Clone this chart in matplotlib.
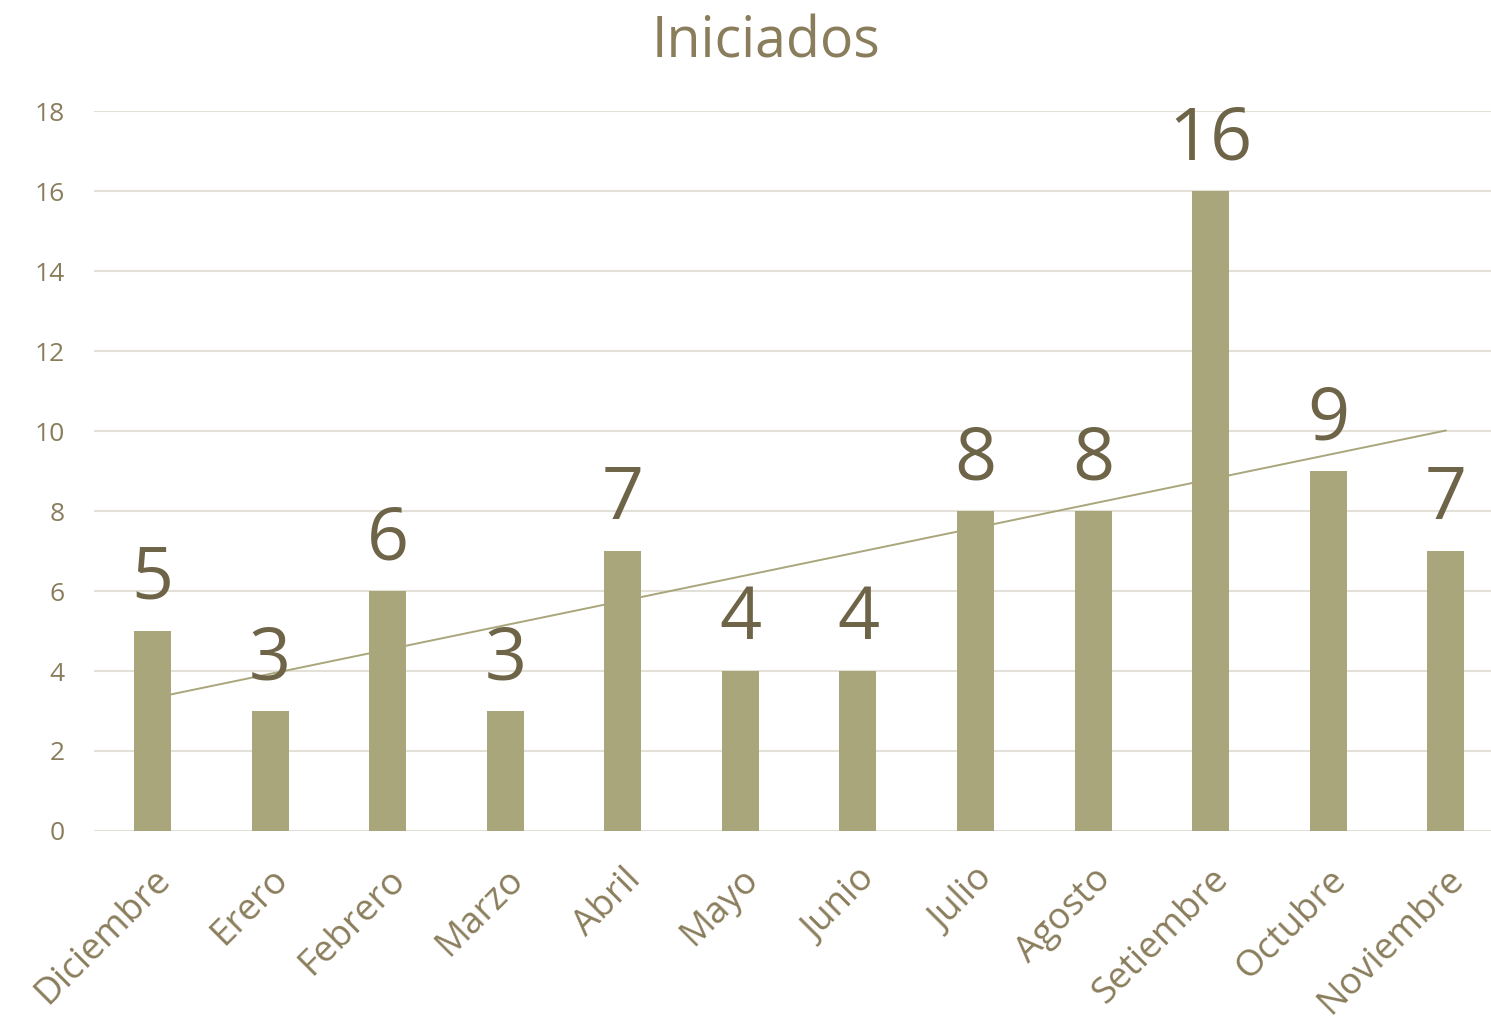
import numpy as np
import matplotlib
matplotlib.use("Agg")
import matplotlib.pyplot as plt
from matplotlib.transforms import ScaledTranslation

plt.rcParams['font.family'] = ['Open Sans', 'DejaVu Sans']

months = ["Diciembre", "Erero", "Febrero", "Marzo", "Abril", "Mayo", "Junio",
          "Julio", "Agosto", "Setiembre", "Octubre", "Noviembre"]
values = [5, 3, 6, 3, 7, 4, 4, 8, 8, 16, 9, 7]
yticks = [0, 2, 4, 6, 8, 10, 12, 14, 16, 18]
title = "Iniciados"

bar_color = "#aaa67c"
text_color = "#8a7d5c"
label_color = "#6e6448"
grid_color = "#e3e0d7"

fig = plt.figure(figsize=(14.91, 10.24), dpi=100)
ax = fig.add_axes([0.063, 0.1885, 0.946, 0.703])

x = np.arange(len(months))
ax.bar(x, values, width=0.315, color=bar_color, zorder=2)

# linear trendline
slope, intercept = np.polyfit(x, values, 1)
ax.plot([x[0], x[-1]], [intercept + slope * x[0], intercept + slope * x[-1]],
        color=bar_color, lw=1.4, zorder=3)

for xi, v in zip(x, values):
    ax.annotate(str(v), (xi, v), xytext=(0, 23), textcoords="offset points",
                ha="center", va="baseline", fontsize=53, color=label_color, zorder=4)

ax.set_xlim(-0.5, 11.5)
ax.set_ylim(0, 18)
ax.set_yticks(yticks)
ax.set_yticklabels([str(t) for t in yticks])
ax.set_xticks(x)
ax.set_xticklabels(months, rotation=45, ha="right", rotation_mode="anchor")
shift = ScaledTranslation(-7 / 100, 0, fig.dpi_scale_trans)
for lbl in ax.get_xticklabels():
    lbl.set_transform(lbl.get_transform() + shift)
ax.tick_params(axis="y", length=0, pad=21, labelsize=19, labelcolor=text_color)
ax.tick_params(axis="x", length=0, pad=22, labelsize=26.5, labelcolor=text_color)
ax.yaxis.grid(True, color=grid_color, lw=1.5, zorder=0)
ax.set_axisbelow(True)
for s in ax.spines.values():
    s.set_visible(False)

fig.text(0.514, 0.958, title, ha="center", va="center", fontsize=40, color=text_color)

fig.savefig("out.png", dpi=100)
